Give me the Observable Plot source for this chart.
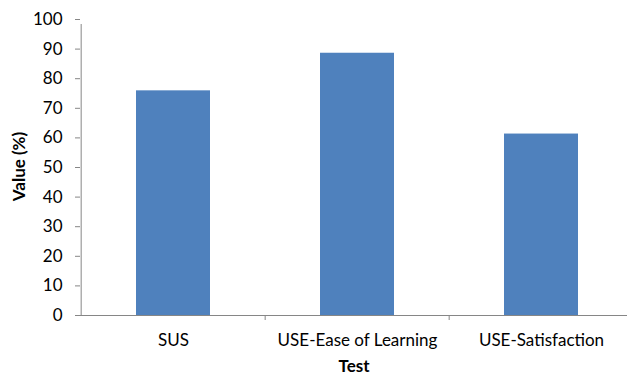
<!DOCTYPE html>
<html>
<head>
<meta charset="utf-8">
<script src="https://cdn.jsdelivr.net/npm/d3@7"></script>
<script src="https://cdn.jsdelivr.net/npm/@observablehq/plot@0.6"></script>
<style>
  html, body { margin: 0; padding: 0; background: #fff; overflow: hidden; }
  svg { display: block; }
</style>
</head>
<body>
<div id="chart"></div>
<script>
// Scores by test, in percent
const categories = ["SUS", "USE-Ease of Learning", "USE-Satisfaction"];
const values = [75.9, 88.6, 61.3];
const yTicks = [0, 10, 20, 30, 40, 50, 60, 70, 80, 90, 100];

const data = categories.map((test, i) => ({test, value: values[i]}));

const axisColor = "#868686";
const barColor = "#4F81BD";
const font = "Lato, 'Open Sans', sans-serif";

const xRange = [80, 634];
const step = (xRange[1] - xRange[0]) / categories.length;

const chart = Plot.plot({
  width: 627,
  height: 374,
  marginLeft: 80,
  marginRight: 0,
  marginTop: 19,
  marginBottom: 59,
  style: {fontFamily: font, color: "#000", background: "#fff"},
  x: {domain: categories, range: xRange, paddingInner: 0.6, paddingOuter: 0.3},
  y: {domain: [0, 100]},
  marks: [
    Plot.barY(data, {x: "test", y: "value", fill: barColor}),
    // horizontal axis line
    Plot.ruleY([0], {stroke: axisColor}),
    // vertical axis line (left edge of first category)
    Plot.ruleX([categories[0]], {dx: -step / 2, y1: 0, y2: 100, insetBottom: -5, stroke: axisColor}),
    // category boundary ticks
    Plot.ruleX(categories.slice(1), {dx: -step / 2, y1: 0, y2: 0, insetBottom: -5, stroke: axisColor}),
    Plot.axisY({ticks: yTicks, tickSize: 5, tickPadding: 13, stroke: axisColor, fontSize: 17, fill: "#000", label: null}),
    Plot.axisX({tickSize: 0, tickPadding: 18, fontSize: 17, fill: "#000", label: null}),
    Plot.text(["Test"], {frameAnchor: "bottom", dy: 56, fontSize: 17, fontWeight: "bold", fill: "#000"}),
    Plot.text(["Value (%)"], {frameAnchor: "left", textAnchor: "middle", dx: -61, dy: -1, rotate: -90, fontSize: 17, fontWeight: "bold", fill: "#000"})
  ]
});

document.getElementById("chart").append(chart);
</script>
</body>
</html>
